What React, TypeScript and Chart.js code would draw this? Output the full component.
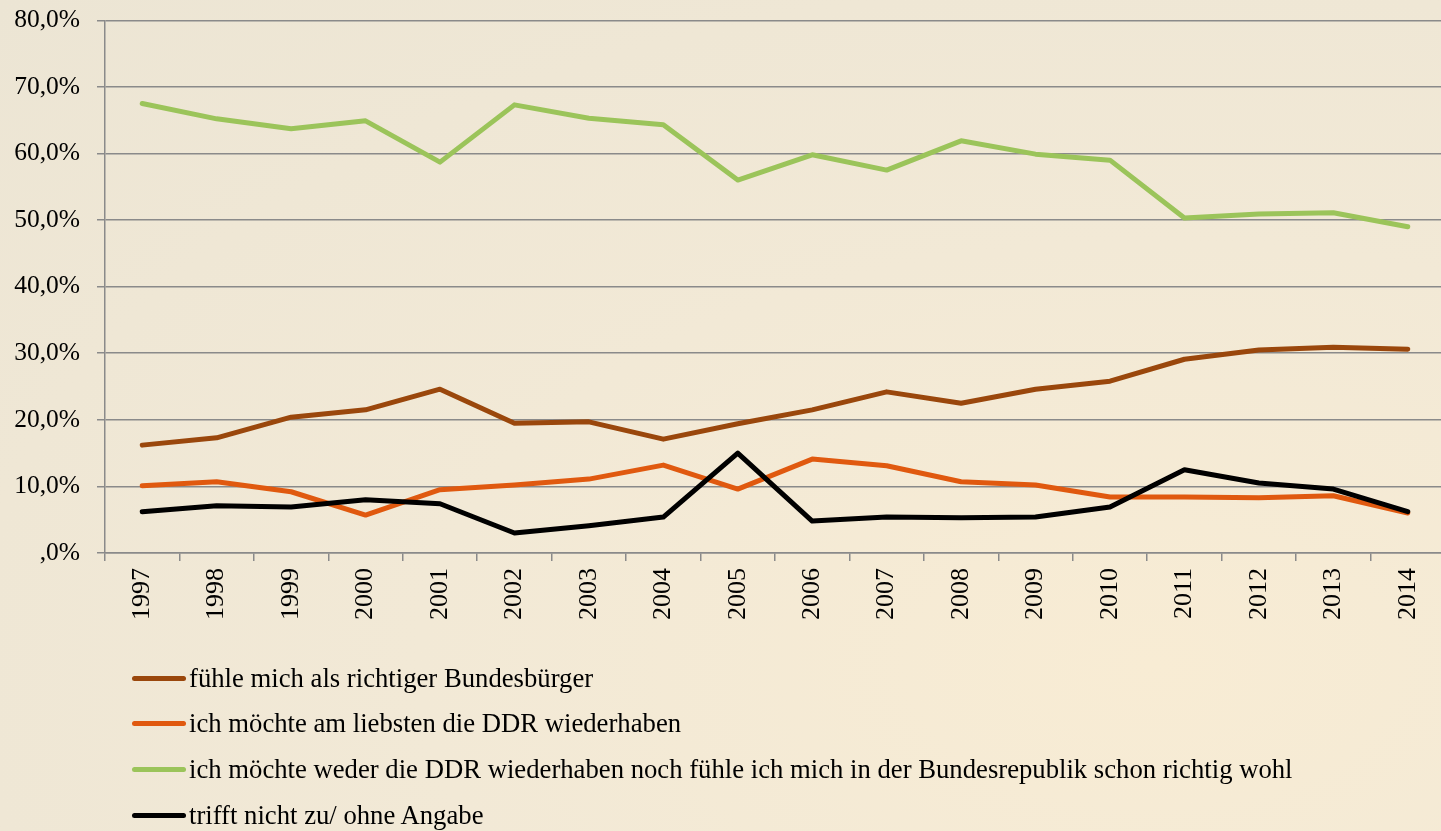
import React, { useEffect, useRef } from "react";
import { Chart, registerables } from "chart.js";

Chart.register(...registerables);

const years = ["1997", "1998", "1999", "2000", "2001", "2002", "2003", "2004", "2005", "2006", "2007", "2008", "2009", "2010", "2011", "2012", "2013", "2014"];
const bundesbuerger = [16.2, 17.3, 20.4, 21.5, 24.6, 19.5, 19.7, 17.1, 19.4, 21.5, 24.2, 22.5, 24.6, 25.8, 29.1, 30.5, 30.9, 30.6];
const ddrZurueck = [10.1, 10.7, 9.2, 5.7, 9.5, 10.2, 11.1, 13.2, 9.6, 14.1, 13.1, 10.7, 10.2, 8.4, 8.4, 8.3, 8.6, 6.0];
const weder = [67.5, 65.2, 63.7, 64.9, 58.7, 67.3, 65.3, 64.3, 56.0, 59.8, 57.5, 61.9, 59.9, 59.0, 50.3, 50.9, 51.1, 49.0];
const keineAngabe = [6.2, 7.1, 6.9, 8.0, 7.4, 3.0, 4.1, 5.4, 15.0, 4.8, 5.4, 5.3, 5.4, 6.9, 12.5, 10.5, 9.6, 6.2];

const seriesLabels = [
  "fühle mich als richtiger Bundesbürger",
  "ich möchte am liebsten die DDR wiederhaben",
  "ich möchte weder die DDR wiederhaben noch fühle ich mich in der Bundesrepublik schon richtig wohl",
  "trifft nicht zu/ ohne Angabe",
];
const seriesColors = ["#9A470C", "#E0590F", "#9BC45A", "#000000"];
const seriesData = [bundesbuerger, ddrZurueck, weder, keineAngabe];

const FONT = "'Liberation Serif', 'Times New Roman', serif";

export default function App() {
  const ref = useRef<HTMLCanvasElement | null>(null);

  useEffect(() => {
    if (!ref.current) return;
    const chart = new Chart(ref.current, {
      type: "line",
      data: {
        labels: years,
        datasets: seriesData.map((d, i) => ({
          label: seriesLabels[i],
          data: d,
          borderColor: seriesColors[i],
          backgroundColor: seriesColors[i],
          borderWidth: 5,
          pointRadius: 0,
          tension: 0,
          borderCapStyle: "round" as const,
          borderJoinStyle: "round" as const,
          order: 3 - i,
        })),
      },
      options: {
        animation: false,
        responsive: false,
        devicePixelRatio: 1,
        layout: { padding: { top: 8, right: 1, left: 0, bottom: 0 } },
        plugins: { legend: { display: false }, tooltip: { enabled: false } },
        scales: {
          x: {
            offset: true,
            grid: {
              offset: true,
              drawOnChartArea: false,
              drawTicks: true,
              tickLength: 8,
              color: "#8a8a8a",
              lineWidth: 1.5,
            },
            border: { color: "#8a8a8a", width: 1.5 },
            ticks: {
              minRotation: 90,
              maxRotation: 90,
              autoSkip: false,
              padding: 7,
              color: "#000",
              font: { family: FONT, size: 26 },
            },
            afterFit: (s: any) => {
              s.height = 87;
            },
          },
          y: {
            min: 0,
            max: 80,
            grid: {
              color: "#8a8a8a",
              lineWidth: 1.5,
              tickLength: 8,
            },
            border: { color: "#8a8a8a", width: 1.5 },
            ticks: {
              stepSize: 10,
              padding: 17,
              color: "#000",
              font: { family: FONT, size: 25.5 },
              callback: (v: any) => (v === 0 ? ",0%" : Number(v).toFixed(1).replace(".", ",") + "%"),
            },
            afterFit: (s: any) => {
              s.width = 105;
            },
          },
        },
      },
    });
    return () => chart.destroy();
  }, []);

  const legendRows = [678, 723, 769, 815];

  return (
    <div
      style={{
        position: "fixed",
        left: 0,
        top: 0,
        width: 1441,
        height: 831,
        overflow: "hidden",
        background: "radial-gradient(ellipse at 80% 80%, #F8ECD4 0%, #F2E9D6 45%, #ECE5D4 100%)",
        fontFamily: FONT,
      }}
    >
      <canvas ref={ref} width={1446} height={652} style={{ position: "absolute", left: 0, top: -12, width: 1446, height: 652 }} />
      {seriesLabels.map((lab, i) => (
        <div key={i} style={{ position: "absolute", left: 132, top: legendRows[i] - 18, height: 36, display: "flex", alignItems: "center", whiteSpace: "nowrap" }}>
          <div style={{ width: 54, height: 5, borderRadius: 3, background: seriesColors[i] }} />
          <span style={{ marginLeft: 3, fontSize: 26.7, color: "#000", lineHeight: "36px" }}>{lab}</span>
        </div>
      ))}
    </div>
  );
}
